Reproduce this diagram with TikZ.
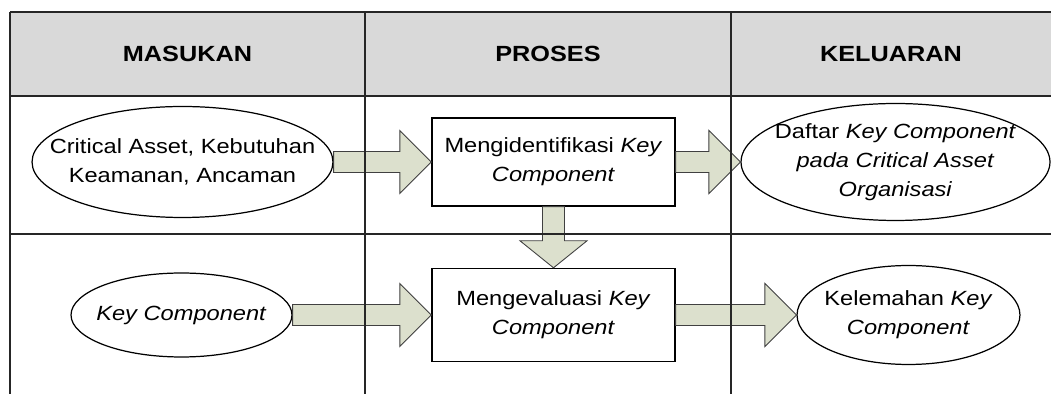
\documentclass[tikz,border=0pt]{standalone}
\usepackage{fontspec}
\setmainfont{Liberation Sans}[FakeStretch=1.15]
\usepackage{tikz}
\usepackage{xcolor}
\usetikzlibrary{calc,shapes.geometric}

\definecolor{headgray}{RGB}{217,217,217}
\definecolor{arrowfill}{RGB}{220,224,205}

\begin{document}
\begin{tikzpicture}[
  x=0.02cm, y=-0.02cm,
  every node/.style={font=\fontsize{11.7}{16.4}\selectfont},
  heading/.style={
    font=\fontsize{12.5}{14}\selectfont\bfseries,
    align=center
  },
  process/.style={
    draw=black,
    line width=0.8pt,
    fill=white,
    align=center,
    minimum width=4.86cm,
    minimum height=#1,
    inner sep=0pt
  },
  datum/.style={
    ellipse,
    draw=black,
    line width=0.7pt,
    fill=white,
    align=center,
    inner sep=-1cm
  },
  fatarrow/.style={draw=black!75, line width=0.5pt, fill=arrowfill, line join=miter},
  gridline/.style={draw=black!85, line width=0.7pt}
]
\useasboundingbox (0,0) rectangle (1051,394);

% header row
\fill[headgray] (10,12) rectangle (1051,96);
\node[heading] (hin) at (187.5,54) {MASUKAN};
\node[heading] (hproc) at (548,54) {PROSES};
\node[heading] (hout) at (891,54) {KELUARAN};

% first row
\node[datum, minimum width=6.02cm, minimum height=2.22cm] (crit) at (182.5,162)
  {Critical Asset, Kebutuhan\\Keamanan, Ancaman};
\node[process=1.76cm] (ident) at (553.5,162)
  {Mengidentifikasi \textit{Key}\\\textit{Component}};
\node[datum, minimum width=6.18cm, minimum height=2.34cm] (daftar) at (895.5,162)
  {Daftar \textit{Key Component}\\\textit{pada Critical Asset}\\\textit{Organisasi}};

% second row
\node[datum, minimum width=4.42cm, minimum height=1.68cm] (keyc) at (181.5,315)
  {\textit{Key Component}};
\node[process=1.86cm] (eval) at (553.5,315)
  {Mengevaluasi \textit{Key}\\\textit{Component}};
\node[datum, minimum width=4.46cm, minimum height=1.98cm] (lemah) at (908.5,315)
  {Kelemahan \textit{Key}\\\textit{Component}};

% block arrows
\foreach \src/\dst in {crit/ident, ident/daftar, keyc/eval, eval/lemah}
  \draw[fatarrow] ($(\src.east)+(0,0.21cm)$) -- ($(\dst.west)+(-0.63cm,0.21cm)$)
    -- ++(0,0.42cm) -- (\dst.west) -- ++(-0.63cm,-0.63cm) -- ++(0,0.42cm)
    -- ($(\src.east)+(0,-0.21cm)$) -- cycle;
\draw[fatarrow] ($(ident.south)+(-0.22cm,0)$) -- ($(eval.north)+(-0.22cm,0.54cm)$)
  -- ++(-0.45cm,0) -- (eval.north) -- ++(0.67cm,0.54cm) -- ++(-0.45cm,0)
  -- ($(ident.south)+(0.22cm,0)$) -- cycle;

% table lines
\draw[gridline] (10,12) -- (1051,12);
\draw[gridline] (10,96) -- (1051,96);
\draw[gridline] (10,234) -- (1051,234);
\foreach \xcol in {10,365,731}
  \draw[gridline] (\xcol,12) -- (\xcol,394);
\end{tikzpicture}
\end{document}
